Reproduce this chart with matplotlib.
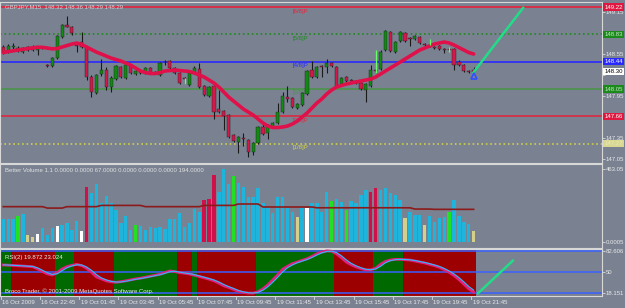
import matplotlib
matplotlib.use("Agg")
import matplotlib.pyplot as plt
from matplotlib.patches import Rectangle
import matplotlib.transforms as mtrans
from matplotlib import font_manager

_names = {f.name for f in font_manager.fontManager.ttflist}
if 'Liberation Sans Narrow' in _names:
    plt.rcParams['font.family'] = ['Liberation Sans Narrow', 'DejaVu Sans']
    FS = 4.9
else:
    plt.rcParams['font.family'] = ['Liberation Sans', 'DejaVu Sans']
    FS = 4.3

# ---------------- data ----------------
opens = [148.65,148.58,148.65,148.61,148.58,148.61,148.65,148.61,148.64,148.39,
         148.38,148.49,148.79,148.96,148.94,148.68,148.72,148.65,148.22,147.99,
         148.26,148.32,148.08,148.19,148.37,148.21,148.38,148.26,148.31,148.28,
         148.35,148.28,148.25,148.44,148.45,148.35,148.28,148.21,148.11,148.28,
         148.34,148.09,147.95,148.09,147.76,147.74,147.68,147.39,147.29,147.35,
         147.32,147.15,147.28,147.51,147.42,147.51,147.56,147.72,147.94,147.92,
         147.78,147.82,147.98,148.32,148.22,148.38,148.37,148.42,148.37,148.12,
         148.22,148.18,148.16,148.14,148.04,148.09,148.32,148.34,148.61,148.86,
         148.58,148.74,148.85,148.78,148.76,148.79,148.69,148.68,148.65,148.66,
         148.62,148.62,148.62,148.44,148.39,148.31,148.32]
highs = [148.68,148.69,148.71,148.66,148.65,148.66,148.68,148.65,148.66,148.41,
         148.51,148.82,148.98,149.09,148.95,148.71,148.86,148.66,148.25,148.26,
         148.48,148.36,148.24,148.39,148.38,148.41,148.39,148.32,148.32,148.36,
         148.36,148.31,148.44,148.46,148.46,148.36,148.29,148.22,148.29,148.38,
         148.42,148.11,148.09,148.11,148.04,147.75,147.69,147.41,147.38,147.42,
         147.34,147.29,147.52,147.56,147.55,147.58,147.85,148.01,148.09,147.94,
         147.85,148.01,148.32,148.45,148.38,148.39,148.48,148.44,148.38,148.22,
         148.24,148.19,148.18,148.15,148.14,148.39,148.33,148.61,148.89,148.88,
         148.74,148.88,148.86,148.79,148.82,148.81,148.71,148.69,148.66,148.68,
         148.64,148.64,148.64,148.46,148.41,148.32,148.36]
lows = [148.55,148.56,148.61,148.58,148.56,148.59,148.59,148.54,148.62,148.37,
        148.37,148.48,148.78,148.93,148.82,148.58,148.64,148.18,147.94,147.98,
        148.24,148.04,148.01,148.18,148.21,148.19,148.26,148.25,148.26,148.26,
        148.26,148.26,148.24,148.39,148.32,148.26,148.12,148.12,148.09,148.26,
        148.06,147.95,147.94,147.62,147.71,147.46,147.35,147.29,147.14,147.24,
        147.08,147.11,147.26,147.39,147.34,147.49,147.55,147.71,147.86,147.78,
        147.76,147.81,147.96,148.21,148.21,148.22,148.28,148.37,148.06,148.11,
        148.15,148.16,148.12,148.04,147.86,148.08,148.28,148.32,148.59,148.58,
        148.56,148.72,148.72,148.66,148.75,148.69,148.66,148.65,148.62,148.61,
        148.56,148.61,148.32,148.38,148.29,148.28,148.29]
closes = [148.58,148.66,148.66,148.64,148.64,148.65,148.61,148.64,148.65,148.38,
          148.49,148.81,148.96,148.94,148.85,148.66,148.65,148.22,148.01,148.25,
          148.32,148.08,148.21,148.38,148.22,148.39,148.28,148.31,148.28,148.35,
          148.28,148.29,148.42,148.43,148.35,148.28,148.14,148.20,148.28,148.35,
          148.08,147.96,148.08,147.72,147.72,147.66,147.36,147.31,147.36,147.34,
          147.15,147.28,147.51,147.41,147.54,147.56,147.72,147.95,147.91,147.79,
          147.84,147.99,148.31,148.22,148.36,148.37,148.42,148.38,148.08,148.21,
          148.16,148.17,148.14,148.05,148.12,148.32,148.31,148.58,148.88,148.59,
          148.72,148.86,148.74,148.77,148.81,148.71,148.68,148.67,148.64,148.62,
          148.61,148.61,148.39,148.39,148.31,148.30,148.29]
ma_line = [148.571,148.585,148.595,148.607,148.617,148.628,148.638,148.647,148.645,148.635,
           148.624,148.628,148.65,148.671,148.692,148.707,148.685,148.65,148.614,148.578,
           148.55,148.521,148.492,148.471,148.45,148.421,148.392,148.35,148.307,148.285,
           148.271,148.271,148.285,148.307,148.314,148.321,148.314,148.307,148.3,148.278,
           148.25,148.221,148.178,148.135,148.078,148.007,147.935,147.878,147.821,147.764,
           147.721,147.678,147.621,147.564,147.521,147.5,147.5,147.507,147.521,147.55,
           147.592,147.65,147.707,147.778,147.85,147.907,147.978,148.035,148.078,148.1,
           148.121,148.135,148.15,148.164,148.178,148.192,148.221,148.264,148.307,148.35,
           148.392,148.435,148.478,148.521,148.564,148.607,148.635,148.664,148.692,148.707,
           148.721,148.707,148.678,148.642,148.607,148.571,148.55]

mm_levels = [149.22, 148.83, 148.44, 148.05, 147.66, 147.27]
mm_names = ['[6/8]P', '[5/8]P', '[4/8]P', '[3/8]P', '[2/8]P', '[1/8]P']
mm_colors = ['#e8203c', '#1f8a1f', '#2a2aff', '#4a944a', '#dc2a40', '#d0d048']
mm_styles = ['-', ':', '-', '-', '-', ':']
mm_box_fc = ['#e01840', '#1a8a1a', '#2828ff', '#1a8a1a', '#e01840', '#d8d890']
mm_box_tc = ['#ffffff', '#c8e8c8', '#ffffff', '#c8e8c8', '#ffffff', '#e8e8c0']
price_ticks = [149.15, 148.85, 148.55, 148.25, 147.95, 147.65, 147.35, 147.05]
price_tick_labels = ['149.15', '', '148.55', '', '147.95', '', '147.35', '147.05']
current_price = 148.30

signal_bars = [37, 76, 87, 91]
signal_top = [148.21, 148.61, 148.76, 148.65]
signal_bot = [148.12, 148.28, 148.68, 148.58]
arrow_bar = [96]
arrow_price = [148.24]
trend_bars = [96, 106.1]
trend_prices = [148.29, 149.21]

volumes = [146,146,146,167,177,44,36,53,93,44,
           93,103,110,120,78,135,72,352,310,369,
           251,293,251,205,120,167,78,108,103,78,
           99,93,99,82,146,150,184,99,120,209,
           194,268,272,424,321,462,369,420,373,352,
           289,289,342,247,226,184,285,285,215,194,
           158,215,215,247,247,194,321,264,272,257,
           205,264,247,300,331,321,342,331,342,310,
           300,268,152,194,173,173,110,167,131,152,
           162,194,268,167,131,116,72]
vol_types = list("cccgcyywccc" "wccccwr" "ccccccccc" "g" "ccccccccccccc" "rrr" "ccc" "g"
                 "cccccccccccc" "y" "c" "w" "cccc" "g" "cc" "g" "cccc" "rr" "ccccc" "y"
                 "ccc" "y" "cccc" "g" "cccc" "y")
vol_ma = [226]*9 + [217]*4 + [226]*7 + [234]*9 + [226]*12 + [234]*7 + [243]*5 + \
         [224]*11 + [219]*20 + [211]*4 + [209]*9
vol_ticks = [0, 463.05]
vol_tick_labels = ['0.0005', '463.05']

rsi = [61.0,60.7,60.3,59.9,59.4,58.9,58.4,55,51,47.5,
       45.8,49.5,55,58.5,60.5,62.0,60,56,50,43,
       40,37,35.5,34.8,35.8,37,38.5,40,41,42.5,
       44,45.5,47,49.5,52,51,49.3,48.5,47.3,45.5,
       43.5,41.5,39.5,37,33.5,29.5,27,24,21,19.5,
       18.5,18.5,20.5,25,31,38.5,46,54.5,59,63,
       65.5,68,70.5,74,78,80.5,82.3,81.8,78,72,
       65.5,61.5,58,55.5,53.5,53.8,56,62,66.5,68.5,
       69.5,69.5,69,68.5,67,65.5,64,62,60,57.5,
       54,50,45,39,32,25,19.9]
rsi_signal = [61.2,60.9,60.5,60.1,59.7,59.2,58.7,56.7,53.0,49.3,
              46.7,47.7,52.3,56.8,59.5,61.3,61.0,58.0,53.0,46.5,
              41.5,38.5,36.3,35.2,35.3,36.4,37.8,39.3,40.5,41.8,
              43.3,44.8,46.3,48.3,50.8,51.5,50.2,48.9,47.9,46.4,
              44.5,42.5,40.5,38.3,35.3,31.5,28.3,25.5,22.5,20.3,
              19.0,18.5,19.5,22.8,28.0,34.8,42.3,50.3,56.8,61.0,
              64.3,66.8,69.3,72.3,76.0,79.3,81.4,82.0,79.9,75.0,
              68.8,63.5,59.8,56.8,54.5,53.7,54.9,59.0,64.3,67.5,
              69.0,69.5,69.3,68.8,67.8,66.3,64.8,63.0,61.0,58.8,
              55.8,52.0,47.5,42.0,35.5,28.5,23.0]
rsi_zones = list("GG" "RRRRRRRRR" "GGGG" "RRRRRRRR" "GGGGGGGGGGGGG" "RRR" "G"
                 "RRRRRRRRRRRR" "GGGGGGGGGGGGGGGG" "RRRRRRRR" "GGGGGG" "RRRRRRRRRRRRRRR")
rsi_levels = [82.606, 50, 18.151]
rsi_level_labels = ['82.606', '50', '18.151']
rsi_trend_bars = [96.9, 104.0]
rsi_trend_vals = [18.2, 67.5]

time_label_bars = [0, 8, 16, 24, 32, 40, 48, 56, 64, 72, 80, 88, 96]
time_labels = ['16 Oct 2009', '16 Oct 22:45', '19 Oct 01:45', '19 Oct 03:45', '19 Oct 05:45',
               '19 Oct 07:45', '19 Oct 09:45', '19 Oct 11:45', '19 Oct 13:45', '19 Oct 15:45',
               '19 Oct 17:45', '19 Oct 19:45', '19 Oct 21:45']

# ---------------- styling ----------------
W, H = 625, 308
BG = '#7a8292'
FG = '#e8e8e8'
fig = plt.figure(figsize=(W / 100, H / 100), dpi=100)
fig.patch.set_facecolor(BG)


def px_axes(x0, y0, x1, y1):
    a = fig.add_axes([x0 / W, 1 - y1 / H, (x1 - x0) / W, (y1 - y0) / H])
    a.set_facecolor(BG)
    a.set_xlim(-0.67, 122.2)
    a.set_xticks([])
    for s in a.spines.values():
        s.set_color('#d8d8d8')
        s.set_linewidth(0.8)
    a.yaxis.tick_right()
    a.tick_params(axis='y', direction='out', length=2, width=0.6, colors='#d8d8d8',
                  labelsize=FS, labelcolor=FG, pad=0.8)
    return a


ax = px_axes(0, 2, 602, 163)
axv = px_axes(0, 164, 602, 248)
axr = px_axes(0, 249, 602, 296)

# ---------------- main chart ----------------
ax.set_ylim(146.993, 149.293)
ax.set_yticks(price_ticks)
ax.set_yticklabels(price_tick_labels)

for lvl, col, ls, name in zip(mm_levels, mm_colors, mm_styles, mm_names):
    ax.axhline(lvl, color=col, ls=ls, lw=1.2, zorder=1)
    ax.text(59, lvl - 0.02, name, color=col, fontsize=FS, va='top', ha='left', zorder=2)

GREEN, RED, WICK = '#128a12', '#d4184a', '#1a1a1a'
for i, (o, h, l, c) in enumerate(zip(opens, highs, lows, closes)):
    ax.vlines(i, l, h, color=WICK, lw=0.8, zorder=3)
    if abs(c - o) < 0.006:
        ax.hlines(c, i - 0.35, i + 0.35, color=WICK, lw=0.9, zorder=4)
    else:
        fc = GREEN if c > o else RED
        ax.add_patch(Rectangle((i - 0.32, min(o, c)), 0.64, abs(c - o), fc=fc,
                               ec='#202020', lw=0.3, zorder=4))

ax.plot(range(len(ma_line)), ma_line, color='#e0104a', lw=2.6, zorder=5, solid_capstyle='round')
ax.vlines(signal_bars, signal_bot, signal_top, color='#66ff66', lw=0.9, zorder=6)
ax.plot(trend_bars, trend_prices, color='#22dd88', lw=1.8, zorder=6)
ax.plot(arrow_bar, arrow_price, marker='^', ms=5, mfc='none', mec='#3050ff', mew=1.2, zorder=7)

ax.text(0.008, 0.985, "GBPJPY,M15  148.32 148.36 148.29 148.29", transform=ax.transAxes,
        fontsize=FS, color='#d0d0d0', va='top', ha='left')

tr = mtrans.blended_transform_factory(ax.transAxes, ax.transData)
for lvl, fc, tc in zip(mm_levels, mm_box_fc, mm_box_tc):
    ax.text(1.0035, lvl, f"{lvl:.2f}", transform=tr, fontsize=FS, color=tc, va='center', ha='left',
            clip_on=False, zorder=10,
            bbox=dict(boxstyle='square,pad=0.2', fc=fc, ec='none'))
ax.text(1.0035, current_price, f"{current_price:.2f}", transform=tr, fontsize=FS, color='#000000',
        va='center', ha='left', clip_on=False, zorder=10,
        bbox=dict(boxstyle='square,pad=0.2', fc='#ffffff', ec='none'))

# ---------------- volume ----------------
vcol = {'c': '#1eb4dc', 'g': '#22e022', 'y': '#d4d08c', 'w': '#ffffff', 'r': '#d0104a'}
axv.set_ylim(-36, 496.5)
axv.set_yticks(vol_ticks)
axv.set_yticklabels(vol_tick_labels)
axv.bar(range(len(volumes)), volumes, width=0.68, color=[vcol[t] for t in vol_types], zorder=2)
axv.plot(range(len(vol_ma)), vol_ma, color='#8c1a1a', lw=1.2, zorder=3)
axv.text(0.008, 0.95, "Better Volume 1.1 0.0000 0.0000 67.0000 0.0000 0.0000 0.0000 194.0000",
         transform=axv.transAxes, fontsize=FS, color='#e0e0e0', va='top', ha='left')

# ---------------- RSI ----------------
zcol = {'G': '#006a00', 'R': '#9c0000'}
axr.set_ylim(14.07, 85.18)
for i, z in enumerate(rsi_zones):
    axr.axvspan(i - 0.5, i + 0.5, color=zcol[z], lw=0, zorder=1)
for lv in rsi_levels:
    axr.axhline(lv, color='#3a60ff', lw=1.1, zorder=2)
axr.set_yticks(rsi_levels)
axr.set_yticklabels(rsi_level_labels)
axr.plot(range(len(rsi)), rsi, color='#e0207a', lw=2.0, zorder=3)
axr.plot(range(len(rsi_signal)), rsi_signal, color='#30b8ff', lw=0.8, zorder=4)
axr.plot(rsi_trend_bars, rsi_trend_vals, color='#22dd88', lw=1.8, zorder=5)
axr.text(0.008, 0.88, "RSI(2) 19.872 23.024", transform=axr.transAxes, fontsize=FS,
         color='#e8e8e8', va='top', ha='left', zorder=6)
axr.text(0.008, 0.04, "Broco Trader, \u00a9 2001-2009 MetaQuotes Software Corp.",
         transform=axr.transAxes, fontsize=FS, color='#e8e8e8', va='bottom', ha='left', zorder=6)

# time axis
trx = mtrans.blended_transform_factory(axr.transData, fig.transFigure)
for b, lab in zip(time_label_bars, time_labels):
    axr.plot([b - 0.5, b - 0.5], [1 - 296 / H, 1 - 299 / H], transform=trx, color='#d8d8d8',
             lw=0.6, clip_on=False)
    axr.text(b - 0.2, 1 - 302 / H, lab, transform=trx, fontsize=FS, color=FG, va='center',
             ha='left', clip_on=False)

fig.savefig('out.png', dpi=100, facecolor=BG)
